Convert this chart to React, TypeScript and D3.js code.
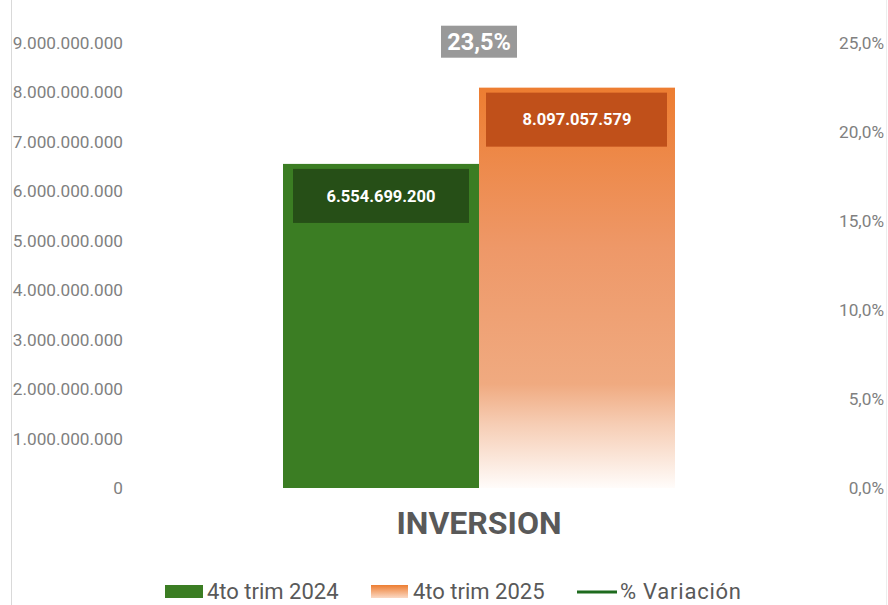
import React from "react";
import * as d3 from "d3";

const categories = ["INVERSION"];
const series2024 = [6554699200];
const series2025 = [8097057579];
const variation = [23.5];
const leftTicks = [0, 1e9, 2e9, 3e9, 4e9, 5e9, 6e9, 7e9, 8e9, 9e9];
const rightTicks = [0, 5, 10, 15, 20, 25];
const legendLabels = ["4to trim 2024", "4to trim 2025", "% Variación"];

const W = 888, H = 605;
const FONT = "Roboto, 'Noto Sans', Arial, sans-serif";

const fmtNum = (v: number) => d3.format(",.0f")(v).replace(/,/g, ".");
const fmtPct = (v: number) => d3.format(".1f")(v).replace(".", ",") + "%";

export default function App() {
  const y = d3.scaleLinear().domain([0, 9e9]).range([488, 43]);
  const yR = d3.scaleLinear().domain([0, 25]).range([488, 43]);
  const x0 = d3.scaleBand().domain(categories).range([283, 675]).padding(0);
  const x1 = d3.scaleBand().domain(["a", "b"]).range([0, x0.bandwidth()]).padding(0);

  return (
    <svg width={W} height={H} style={{ position: "absolute", left: 0, top: 0 }} fontFamily={FONT}>
      <defs>
        <linearGradient id="og" x1="0" y1="0" x2="0" y2="1">
          <stop offset="0%" stopColor="#ED7D31" />
          <stop offset="40%" stopColor="#EE9868" />
          <stop offset="74%" stopColor="#F0AA80" />
          <stop offset="84%" stopColor="#F6CDB4" />
          <stop offset="100%" stopColor="#FFFCFA" />
        </linearGradient>
        <linearGradient id="ogl" x1="0" y1="0" x2="0" y2="1">
          <stop offset="0%" stopColor="#ED7D31" />
          <stop offset="100%" stopColor="#FBD9C4" />
        </linearGradient>
      </defs>
      <rect width={W} height={H} fill="#fff" />
      <line x1={11.5} x2={11.5} y1={0} y2={H} stroke="#D9D9D9" />
      <line x1={886.5} x2={886.5} y1={0} y2={H} stroke="#EDEDED" />
      {leftTicks.map((t) => (
        <text key={t} x={123} y={y(t)} dy="0.35em" textAnchor="end" fontSize={17.2} fill="#808080">
          {t === 0 ? "0" : fmtNum(t)}
        </text>
      ))}
      {rightTicks.map((t) => (
        <text key={t} x={884} y={yR(t)} dy="0.35em" textAnchor="end" fontSize={17.2} fill="#808080">
          {fmtPct(t)}
        </text>
      ))}
      {categories.map((c, i) => {
        const bx = x0(c)!;
        const ga = bx + x1("a")!;
        const gb = bx + x1("b")!;
        const bw = x1.bandwidth();
        const ya = y(series2024[i]);
        const yb = y(series2025[i]);
        const cx = bx + x0.bandwidth() / 2;
        const yv = yR(variation[i]);
        return (
          <g key={c}>
            <rect x={ga} y={ya} width={bw} height={y(0) - ya} fill="#3B7D23" />
            <rect x={gb} y={yb} width={bw} height={y(0) - yb} fill="url(#og)" />
            <rect x={ga + 10} y={ya + 5} width={bw - 20} height={54} fill="#264F17" />
            <text x={ga + bw / 2} y={ya + 32} dy="0.35em" textAnchor="middle" fontSize={16.5} fontWeight="bold" fill="#fff">
              {fmtNum(series2024[i])}
            </text>
            <rect x={gb + 7} y={yb + 5} width={bw - 15} height={54} fill="#C0501A" />
            <text x={gb + bw / 2} y={yb + 32} dy="0.35em" textAnchor="middle" fontSize={16.5} fontWeight="bold" fill="#fff">
              {fmtNum(series2025[i])}
            </text>
            <rect x={cx - 38} y={yv - 44} width={76} height={32} fill="#999999" />
            <text x={cx} y={yv - 28} dy="0.35em" textAnchor="middle" fontSize={23.5} fontWeight="bold" fill="#fff">
              {fmtPct(variation[i])}
            </text>
            <text x={cx} y={523} dy="0.35em" textAnchor="middle" fontSize={32} fontWeight="bold" fill="#595959">
              {c}
            </text>
          </g>
        );
      })}
      <g fontSize={22} fill="#595959">
        <rect x={165} y={585} width={38} height={13} fill="#3B7D23" />
        <text x={207} y={591} dy="0.35em">{legendLabels[0]}</text>
        <rect x={371} y={585} width={37} height={13} fill="url(#ogl)" />
        <text x={413} y={591} dy="0.35em">{legendLabels[1]}</text>
        <line x1={577} x2={617} y1={592} y2={592} stroke="#1E6B1E" strokeWidth={3} />
        <text x={620} y={591} dy="0.35em" textLength={121}>{legendLabels[2]}</text>
      </g>
    </svg>
  );
}
